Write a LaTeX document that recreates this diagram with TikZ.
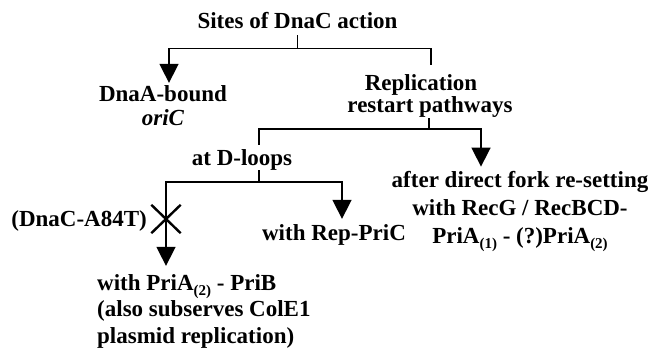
\documentclass[tikz,border=0pt]{standalone}
\usepackage{fontspec}
\setmainfont{Liberation Serif}
\usetikzlibrary{arrows.meta,shapes.misc}
\newcommand\lowsub[1]{\raisebox{-5pt}{\fontsize{15}{15}\selectfont #1}}
\begin{document}
\begin{tikzpicture}[x=1pt,y=-1pt,
  txt/.style={inner sep=0pt, anchor=base, font=\fontsize{23}{24}\selectfont\bfseries},
  line/.style={line width=1.6pt},
  arr/.style={line width=1.6pt, -{Triangle[length=19pt,width=19pt]}},
  xcross/.style={cross out, draw, line width=2.4pt, minimum width=27pt, minimum height=26pt, inner sep=0pt}
]
\useasboundingbox (0,0) rectangle (653,348);

% text nodes (multi-line nodes are placed by the baseline of their last line)
\node[txt] (title) at (297.5,28) {Sites of DnaC action};
\node[txt, align=center] (dnaa) at (163,125) {DnaA-bound\\\textit{oriC}};
\node[txt, align=center, font=\fontsize{23}{20}\selectfont\bfseries] (rep) at (430,112) {Replication\kern18pt\\restart pathways};
\node[txt] (dloop) at (242,165) {at D-loops};
\node[txt, align=center, font=\fontsize{23}{28}\selectfont\bfseries] (fork) at (520,243)
  {after direct fork re-setting\\with RecG / RecBCD-\\PriA\lowsub{(1)} - (?)PriA\lowsub{(2)}};
\node[txt] (rpc) at (334,240) {with Rep-PriC};
\node[txt, anchor=base east] (a84) at (147,226) {(DnaC-A84T)};
\node[txt, align=left, anchor=base west, font=\fontsize{23}{26.5}\selectfont\bfseries] (prib) at (97,343)
  {with PriA\lowsub{(2)} - PriB\\(also subserves ColE1\\plasmid replication)};

% connectors
\draw[line] ([yshift=-7pt]title.south) -- ++(0,13) coordinate (b1);
\draw[arr] (b1) -| ([xshift=6pt,yshift=2pt]dnaa.north);
\draw[line] (b1) -| ([xshift=1pt,yshift=9pt]rep.north);

\draw[line] ([xshift=-1pt,yshift=-1pt]rep.south) -- ++(0,11) coordinate (b2);
\draw[arr] (b2) -| ([xshift=-39pt,yshift=4pt]fork.north);
\draw[line] (b2) -| ([xshift=17pt,yshift=4pt]dloop.north);

\draw[line] ([xshift=17pt]dloop.south) -- ++(0,12) coordinate (b3);
\draw[arr] (b3) -| ([xshift=8pt,yshift=5pt]rpc.north);
\draw[arr] (b3) -| ([xshift=69pt,yshift=8pt]prib.north west);

\node[xcross] (xmark) at (166,219) {};
\end{tikzpicture}
\end{document}
